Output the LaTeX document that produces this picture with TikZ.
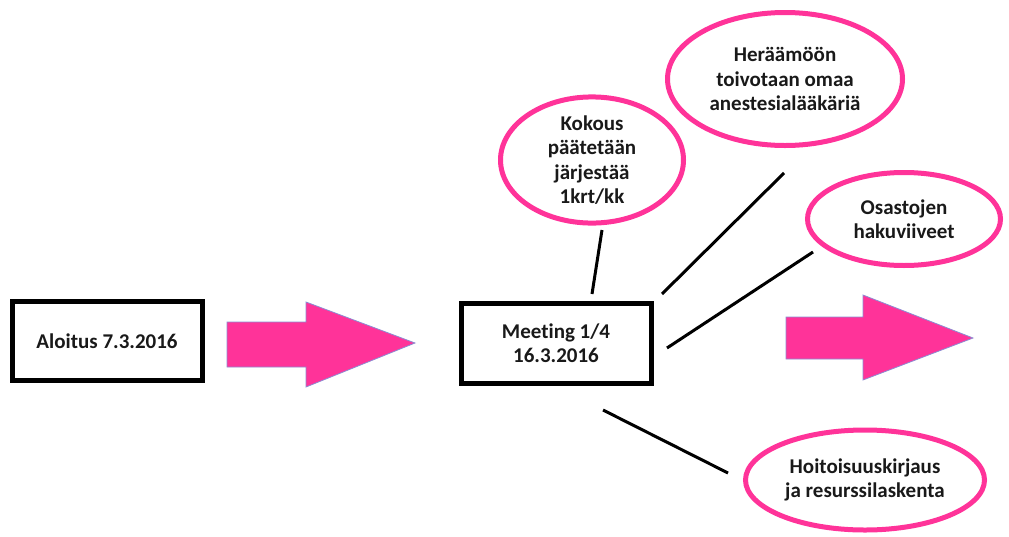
\documentclass[tikz,border=0pt]{standalone}
\usepackage{fontspec}
\setmainfont[Ligatures=NoCommon]{Carlito}
\usetikzlibrary{shapes.geometric}
\definecolor{hotpink}{RGB}{255,51,153}
\definecolor{arrowedge}{RGB}{140,140,210}
\tikzset{
  txt/.style={font=\fontsize{21}{24.5}\selectfont\bfseries, align=center, text=black!90},
  stagebox/.style={txt, draw=black, line width=5pt, inner sep=0pt, rectangle},
  idea/.style={txt, draw=hotpink, line width=5pt, ellipse, inner sep=0pt},
  link/.style={draw=black, line width=3pt},
  bigarrow/.style={fill=hotpink, draw=arrowedge, line width=0.8pt, line join=miter}
}
\begin{document}
\begin{tikzpicture}[x=1pt, y=-1pt]
  \useasboundingbox (0,0) rectangle (1009,536);

  % milestone boxes
  \node[stagebox, minimum width=190pt, minimum height=79pt] (start) at (107,341) {Aloitus 7.3.2016};
  \node[stagebox, minimum width=190pt, minimum height=80pt] (meet) at (556,343) {Meeting 1/4\\16.3.2016};

  % progress arrows
  \path[bigarrow] (227,322) -- (306,322) -- (306,302) -- (415,343) -- (306,387) -- (306,367) -- (227,367) -- cycle;
  \path[bigarrow] (786,317) -- (863,317) -- (863,295) -- (973,338) -- (863,380) -- (863,359) -- (786,359) -- cycle;

  % decisions around the meeting
  \node[idea, minimum width=183pt, minimum height=108pt] (kokous) at (592,160) {Kokous\\päätetään\\järjestää\\1krt/kk};
  \node[idea, minimum width=235pt, minimum height=133pt] (heraamo) at (785,79) {Heräämöön\\toivotaan omaa\\anestesialääkäriä};
  \node[idea, minimum width=193pt, minimum height=93pt] (osasto) at (904,219) {Osastojen\\hakuviiveet};
  \node[idea, minimum width=239pt, minimum height=100pt] (hoito) at (865,480) {Hoitoisuuskirjaus\\ja resurssilaskenta};

  % connector end points (lines stop short of the shapes)
  \coordinate (k1) at (602,230);  \coordinate (k2) at (592,294);
  \coordinate (h1) at (784,173);  \coordinate (h2) at (662,294);
  \coordinate (o1) at (813,252);  \coordinate (o2) at (667,348);
  \coordinate (r1) at (603,410);  \coordinate (r2) at (728,473);

  \draw[link] (k1) -- (k2);
  \draw[link] (h1) -- (h2);
  \draw[link] (o1) -- (o2);
  \draw[link] (r1) -- (r2);
\end{tikzpicture}
\end{document}
